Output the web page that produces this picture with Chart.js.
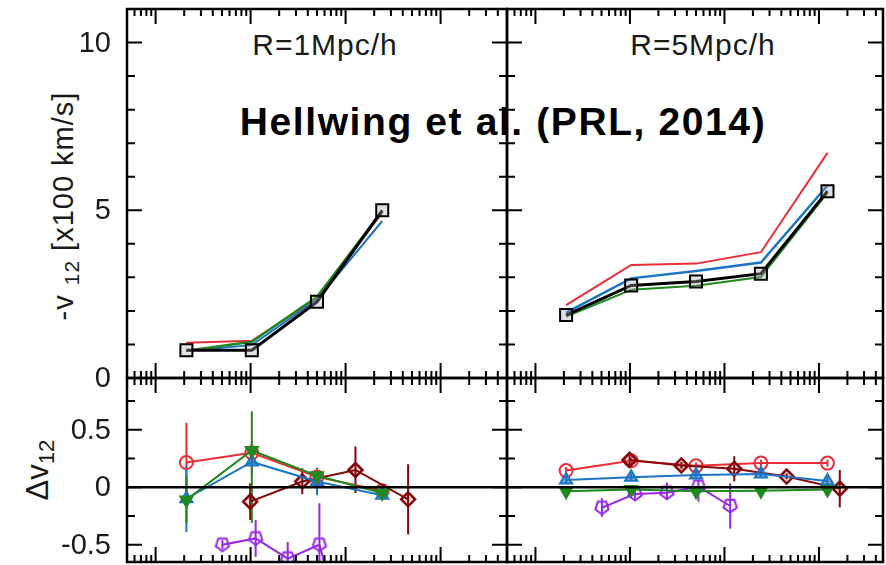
<!DOCTYPE html>
<html lang="en">
<head>
<meta charset="UTF-8" />
<title>Pairwise velocity vs halo mass</title>
<script src="https://cdn.jsdelivr.net/npm/chart.js@4"></script>
<style>
  body { margin: 0; background: #fff; }
  #fig { position: relative; width: 886px; height: 565px; overflow: hidden; background: #fff;
         font-family: "Liberation Sans", Arial, sans-serif; color: #1a1a1a; }
  #fig canvas { position: absolute; }
  .lbl { position: absolute; white-space: nowrap; transform: translate(-50%, -50%); line-height: 1; }
  .rot { transform: translate(-50%, -50%) rotate(-90deg); }
  .sub { font-size: 0.72em; position: relative; top: 0.28em; }
</style>
</head>
<body>
<div id="fig">
  <div class="lbl" style="left:325px;top:45px;font-size:30px;letter-spacing:1px">R=1Mpc/h</div>
  <div class="lbl" style="left:703px;top:45px;font-size:30px;letter-spacing:1px">R=5Mpc/h</div>
  <div class="lbl" style="left:503px;top:121px;font-size:39px;font-weight:bold;letter-spacing:1.6px;color:#000">Hellwing et al. (PRL, 2014)</div>
  <div class="lbl rot" style="left:63px;top:206px;font-size:29px;letter-spacing:1px">-v <span class="sub">12</span> [x100 km/s]</div>
  <div class="lbl rot" style="left:37px;top:470px;font-size:31px">&Delta;v<span class="sub">12</span></div>
  <canvas id="tl" width="520" height="395" style="left:0;top:0"></canvas>
  <canvas id="tr" width="391" height="395" style="left:495px;top:0"></canvas>
  <canvas id="bl" width="520" height="200" style="left:0;top:365px"></canvas>
  <canvas id="br" width="391" height="200" style="left:495px;top:365px"></canvas>
</div>
<script>
// halo mass bins [Msun/h]
const massMain = [2.11e12, 1.03e13, 5.0e13, 2.43e14, 1.23e15];
const massDiamond = [9.9e12, 3.5e13, 1.27e14, 4.55e14, 1.66e15];
const massPenta = [5.05e12, 1.13e13, 2.46e13, 5.3e13, 1.15e14];

// -v12 [x100 km/s], R = 1 Mpc/h
const v12Black1 = [0.83, 0.83, 2.27, 5.0];
const v12Red1 = [1.05, 1.11, 2.36, 4.93];
const v12Blue1 = [0.81, 0.98, 2.33, 4.68];
const v12Green1 = [0.81, 1.08, 2.42, 4.98];

// -v12 [x100 km/s], R = 5 Mpc/h
const v12Black5 = [1.875, 2.76, 2.88, 3.11, 5.57];
const v12Red5 = [2.17, 3.37, 3.41, 3.75, 6.71];
const v12Blue5 = [1.95, 2.97, 3.19, 3.44, 5.74];
const v12Green5 = [1.83, 2.63, 2.75, 3.01, 5.52];

// relative difference dv12 with error ranges, R = 1 Mpc/h
const dRed1 = [0.215, 0.30, 0.09, -0.03];
const dRed1Hi = [0.56, 0.40, 0.16, 0.01];
const dRed1Lo = [-0.13, 0.20, 0.02, -0.07];
const dBlue1 = [-0.10, 0.22, 0.05, -0.07];
const dBlue1Hi = [0.18, 0.32, 0.12, -0.03];
const dBlue1Lo = [-0.39, 0.12, -0.07, -0.11];
const dGreen1 = [-0.11, 0.32, 0.10, -0.05];
const dGreen1Hi = [0.09, 0.66, 0.17, -0.01];
const dGreen1Lo = [-0.31, -0.31, 0.03, -0.09];
const dBrown1 = [-0.125, 0.05, 0.15, -0.105];
const dBrown1Hi = [0.035, 0.165, 0.355, 0.20];
const dBrown1Lo = [-0.285, -0.06, -0.05, -0.41];
const dPurple1 = [-0.50, -0.445, -0.62, -0.50, -1.5];
const dPurple1Hi = [-0.46, -0.285, -0.475, -0.14, -1.2];
const dPurple1Lo = [-0.54, -0.605, -0.80, -0.90, -1.8];

// relative difference dv12 with error ranges, R = 5 Mpc/h
const dRed5 = [0.145, 0.23, 0.186, 0.21, 0.21];
const dRed5Hi = [0.175, 0.26, 0.215, 0.24, 0.24];
const dRed5Lo = [0.115, 0.20, 0.155, 0.18, 0.18];
const dBlue5 = [0.064, 0.087, 0.107, 0.116, 0.055];
const dBlue5Hi = [0.10, 0.12, 0.145, 0.15, 0.09];
const dBlue5Lo = [0.03, 0.055, 0.07, 0.08, 0.02];
const dGreen5 = [-0.035, -0.02, -0.035, -0.03, -0.02];
const dGreen5Hi = [-0.01, 0.0, -0.01, -0.005, 0.0];
const dGreen5Lo = [-0.06, -0.04, -0.06, -0.055, -0.04];
const dBrown5 = [0.238, 0.19, 0.16, 0.093, -0.012];
const dBrown5Hi = [0.29, 0.22, 0.27, 0.12, 0.15];
const dBrown5Lo = [0.19, 0.16, 0.05, 0.07, -0.175];
const dPurple5 = [-0.178, -0.058, -0.047, 0.005, -0.163];
const dPurple5Hi = [-0.096, -0.02, 0.04, 0.064, 0.035];
const dPurple5Lo = [-0.257, -0.10, -0.11, -0.125, -0.36];

const yTicksTop = [0, 5, 10];
const yMinorTop = [1, 2, 3, 4, 6, 7, 8, 9];
const yTicksBottom = [-0.5, 0, 0.5];
const yMinorBottom = [-0.25, 0.25, 0.75];

const RED = 'rgb(234,46,56)';
const BLUE = 'rgb(28,116,196)';
const GREEN = 'rgb(34,136,34)';
const BROWN = 'rgb(132,6,10)';
const PURPLE = 'rgb(152,40,228)';

const pts = (mass, vals) => vals.map((v, i) => ({ x: mass[i], y: v }));

// pentagon marker (point down), pointStyle accepts a canvas
function pentagon(color) {
  const c = document.createElement('canvas');
  c.width = c.height = 18;
  const g = c.getContext('2d');
  g.strokeStyle = color;
  g.lineWidth = 2;
  g.beginPath();
  for (let i = 0; i < 5; i++) {
    const a = Math.PI / 2 + i * 2 * Math.PI / 5;
    const px = 9 + 7 * Math.cos(a), py = 8.5 + 7 * Math.sin(a);
    i ? g.lineTo(px, py) : g.moveTo(px, py);
  }
  g.closePath();
  g.stroke();
  return c;
}

// vertical error bars from errLo/errHi arrays on a dataset
const errorBars = {
  id: 'errorBars',
  beforeDatasetsDraw(chart) {
    const { ctx, chartArea: a, scales: { x, y } } = chart;
    ctx.save();
    ctx.beginPath();
    ctx.rect(a.left, a.top, a.width, a.height);
    ctx.clip();
    chart.data.datasets.slice().reverse().forEach(ds => {
      if (!ds.errHi) return;
      ctx.strokeStyle = ds.borderColor;
      ctx.lineWidth = 2;
      ds.data.forEach((p, i) => {
        const px = x.getPixelForValue(p.x);
        ctx.beginPath();
        ctx.moveTo(px, y.getPixelForValue(ds.errLo[i]));
        ctx.lineTo(px, y.getPixelForValue(ds.errHi[i]));
        ctx.stroke();
      });
    });
    ctx.restore();
  }
};

// box frame with inward ticks on all sides, plus y tick labels
const frame = {
  id: 'frame',
  afterDatasetsDraw(chart, args, opts) {
    if (!opts.zero) return;
    const { ctx, chartArea: a, scales: { y } } = chart;
    const py = y.getPixelForValue(0);
    ctx.save();
    ctx.strokeStyle = '#000';
    ctx.lineWidth = 2.5;
    ctx.beginPath();
    ctx.moveTo(a.left, py);
    ctx.lineTo(a.right, py);
    ctx.stroke();
    ctx.restore();
  },
  afterDraw(chart, args, opts) {
    const { ctx, chartArea: a, scales: { x, y } } = chart;
    ctx.save();
    ctx.strokeStyle = '#000';
    ctx.lineWidth = 2;
    ctx.beginPath();
    for (let e = 11; e <= 15; e++) {
      for (let k = 1; k <= 9; k++) {
        const v = k * Math.pow(10, e);
        if (v <= x.min || v >= x.max) continue;
        const px = x.getPixelForValue(v);
        const len = k === 1 ? 15 : 7;
        ctx.moveTo(px, a.top); ctx.lineTo(px, a.top + len);
        ctx.moveTo(px, a.bottom); ctx.lineTo(px, a.bottom - len);
      }
    }
    const yTick = (v, len) => {
      const py = y.getPixelForValue(v);
      ctx.moveTo(a.left, py); ctx.lineTo(a.left + len, py);
      ctx.moveTo(a.right, py); ctx.lineTo(a.right - len, py);
    };
    opts.yMajor.forEach(v => yTick(v, 15));
    opts.yMinor.forEach(v => yTick(v, 8));
    ctx.stroke();
    ctx.lineWidth = 2.5;
    ctx.strokeRect(a.left, a.top, a.width, a.height);
    if (opts.labels) {
      ctx.fillStyle = '#1a1a1a';
      ctx.font = '29px "Liberation Sans", Arial, sans-serif';
      ctx.textAlign = 'right';
      ctx.textBaseline = 'middle';
      opts.yMajor.forEach(v => ctx.fillText(String(v), a.left - 16, y.getPixelForValue(v) + 1));
    }
    ctx.restore();
  }
};

function panel(id, datasets, pad, xMax, yMin, yMax, frameOpts) {
  return new Chart(document.getElementById(id), {
    type: 'line',
    data: { datasets },
    options: {
      responsive: false,
      animation: false,
      layout: { padding: pad, autoPadding: false },
      plugins: { legend: { display: false }, tooltip: { enabled: false }, frame: frameOpts },
      scales: {
        x: { type: 'logarithmic', display: false, min: 5e11, max: xMax },
        y: { type: 'linear', display: false, min: yMin, max: yMax }
      },
      elements: { line: { tension: 0 } }
    },
    plugins: [errorBars, frame]
  });
}

const plain = (data, color, width) => ({
  data, borderColor: color, borderWidth: width, pointRadius: 0
});
const black = data => ({
  data, borderColor: '#000', borderWidth: 3, pointStyle: 'rect', pointRadius: 8.5,
  pointBorderWidth: 2, pointBorderColor: '#000', pointBackgroundColor: 'rgba(170,170,170,0.35)'
});

function diffSets(mass, r, rh, rl, b, bh, bl, g, gh, gl, d, dh, dl, p, ph, pl) {
  return [
    { data: pts(mass, g), errHi: gh, errLo: gl, borderColor: GREEN, borderWidth: 2,
      pointStyle: 'triangle', pointRotation: 180, pointRadius: 7, pointBorderWidth: 2,
      pointBackgroundColor: GREEN, pointBorderColor: GREEN },
    { data: pts(mass, b), errHi: bh, errLo: bl, borderColor: BLUE, borderWidth: 2,
      pointStyle: 'triangle', pointRadius: 7, pointBorderWidth: 2,
      pointBackgroundColor: 'rgba(28,116,196,0.6)', pointBorderColor: BLUE },
    { data: pts(massDiamond, d), errHi: dh, errLo: dl, borderColor: BROWN, borderWidth: 2,
      pointStyle: 'rectRot', pointRadius: 7, pointBorderWidth: 2.5,
      pointBackgroundColor: 'rgba(132,6,10,0.15)', pointBorderColor: BROWN },
    { data: pts(mass, r), errHi: rh, errLo: rl, borderColor: RED, borderWidth: 2,
      pointStyle: 'circle', pointRadius: 6.5, pointBorderWidth: 2,
      pointBackgroundColor: 'rgba(255,255,255,0)', pointBorderColor: RED },
    { data: pts(massPenta, p), errHi: ph, errLo: pl, borderColor: PURPLE, borderWidth: 2,
      pointStyle: pentagon(PURPLE), pointRadius: 8 }
  ];
}

const topMajor = { yMajor: yTicksTop, yMinor: yMinorTop };
const botMajor = { yMajor: yTicksBottom, yMinor: yMinorBottom, zero: true };

panel('tl', [
  black(pts(massMain, v12Black1)),
  plain(pts(massMain, v12Green1), GREEN, 2.5),
  plain(pts(massMain, v12Blue1), BLUE, 2),
  plain(pts(massMain, v12Red1), RED, 2)
], { left: 127, top: 9, right: 13, bottom: 17 }, 5e15, 0, 11, { ...topMajor, labels: true });

panel('tr', [
  black(pts(massMain, v12Black5)),
  plain(pts(massMain, v12Green5), GREEN, 2),
  plain(pts(massMain, v12Blue5), BLUE, 2.5),
  plain(pts(massMain, v12Red5), RED, 2)
], { left: 12, top: 9, right: 3, bottom: 17 }, 4.76e15, 0, 11, { ...topMajor, labels: false });

panel('bl', diffSets(massMain,
  dRed1, dRed1Hi, dRed1Lo, dBlue1, dBlue1Hi, dBlue1Lo, dGreen1, dGreen1Hi, dGreen1Lo,
  dBrown1, dBrown1Hi, dBrown1Lo, dPurple1, dPurple1Hi, dPurple1Lo
), { left: 127, top: 13, right: 13, bottom: 3 }, 5e15, -0.65, 0.95, { ...botMajor, labels: true });

panel('br', diffSets(massMain,
  dRed5, dRed5Hi, dRed5Lo, dBlue5, dBlue5Hi, dBlue5Lo, dGreen5, dGreen5Hi, dGreen5Lo,
  dBrown5, dBrown5Hi, dBrown5Lo, dPurple5, dPurple5Hi, dPurple5Lo
), { left: 12, top: 13, right: 3, bottom: 3 }, 4.76e15, -0.65, 0.95, { ...botMajor, labels: false });
</script>
</body>
</html>
